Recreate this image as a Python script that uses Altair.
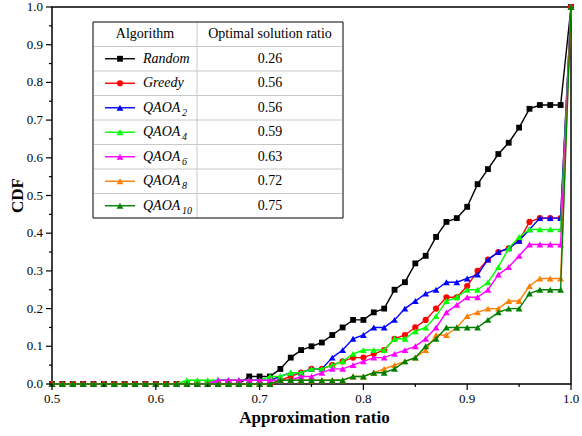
import altair as alt
import pandas as pd

# Approximation-ratio grid (0.50 ... 1.00 in steps of 0.01)
ratio = [round(0.50 + 0.01 * i, 2) for i in range(51)]

# Cumulative distribution of the approximation ratio for each algorithm
cdf_random = [0.0] * 19 + [
    0.02, 0.02, 0.02, 0.04, 0.07, 0.09, 0.10, 0.11, 0.13, 0.15,
    0.17, 0.17, 0.19, 0.20, 0.25, 0.27, 0.32, 0.34, 0.39, 0.43,
    0.44, 0.47, 0.53, 0.57, 0.61, 0.64, 0.68, 0.73, 0.74, 0.74,
    0.74, 1.00]
cdf_greedy = [0.0] * 22 + [
    0.01, 0.02, 0.03, 0.04, 0.04, 0.05, 0.06, 0.07, 0.07, 0.08,
    0.09, 0.12, 0.13, 0.15, 0.17, 0.20, 0.23, 0.23, 0.26, 0.30,
    0.33, 0.35, 0.36, 0.38, 0.43, 0.44, 0.44, 0.44, 1.00]
cdf_qaoa2 = [0.0] * 16 + [0.01] * 6 + [
    0.02, 0.03, 0.03, 0.04, 0.04, 0.07, 0.09, 0.12, 0.13, 0.15,
    0.15, 0.17, 0.20, 0.22, 0.24, 0.25, 0.27, 0.27, 0.28, 0.29,
    0.33, 0.35, 0.36, 0.38, 0.41, 0.44, 0.44, 0.44, 1.00]
cdf_qaoa4 = [0.0] * 13 + [0.01] * 8 + [
    0.02, 0.02, 0.03, 0.03, 0.04, 0.04, 0.05, 0.06, 0.08, 0.09,
    0.09, 0.09, 0.12, 0.12, 0.14, 0.15, 0.18, 0.22, 0.23, 0.25,
    0.25, 0.27, 0.31, 0.36, 0.39, 0.41, 0.41, 0.41, 0.41, 1.00]
cdf_qaoa6 = [0.0] * 16 + [0.01] * 7 + [
    0.01, 0.02, 0.02, 0.03, 0.04, 0.04, 0.05, 0.06, 0.07, 0.07,
    0.08, 0.09, 0.10, 0.12, 0.15, 0.19, 0.21, 0.23, 0.23, 0.25,
    0.29, 0.31, 0.34, 0.37, 0.37, 0.37, 0.37, 1.00]
cdf_qaoa8 = [0.0] * 22 + [0.01] * 7 + [
    0.02, 0.02, 0.03, 0.04, 0.05, 0.06, 0.07, 0.09, 0.13, 0.13,
    0.15, 0.18, 0.19, 0.20, 0.20, 0.22, 0.22, 0.26, 0.28, 0.28,
    0.28, 1.00]
cdf_qaoa10 = [0.0] * 22 + [0.01] * 7 + [
    0.02, 0.02, 0.03, 0.03, 0.04, 0.06, 0.07, 0.10, 0.12, 0.15,
    0.15, 0.15, 0.15, 0.17, 0.19, 0.20, 0.20, 0.24, 0.25, 0.25,
    0.25, 1.00]

series_names = ["Random", "Greedy", "QAOA2", "QAOA4", "QAOA6", "QAOA8", "QAOA10"]
series_values = [cdf_random, cdf_greedy, cdf_qaoa2, cdf_qaoa4,
                 cdf_qaoa6, cdf_qaoa8, cdf_qaoa10]
series_colors = ["#000000", "#ff0000", "#0000ff", "#00ff00",
                 "#ff00ff", "#ff8000", "#008000"]
series_shapes = ["square", "circle", "triangle-up", "triangle-up",
                 "triangle-up", "triangle-up", "triangle-up"]
series_sizes = [34, 38, 46, 46, 46, 46, 46]

# Table legend contents
legend_base = ["Random", "Greedy", "QAOA", "QAOA", "QAOA", "QAOA", "QAOA"]
legend_sub = ["", "", "2", "4", "6", "8", "10"]
optimal_ratio = ["0.26", "0.56", "0.56", "0.59", "0.63", "0.72", "0.75"]

# Axis ticks: labelled major ticks and short unlabelled minor ticks
x_major = [0.5, 0.6, 0.7, 0.8, 0.9, 1.0]
x_minor = [0.55, 0.65, 0.75, 0.85, 0.95]
y_major = [0.0, 0.1, 0.2, 0.3, 0.4, 0.5, 0.6, 0.7, 0.8, 0.9, 1.0]
y_minor = [0.05, 0.15, 0.25, 0.35, 0.45, 0.55, 0.65, 0.75, 0.85, 0.95]

FONT = "Liberation Serif"
W, H = 519, 377
x_scale = alt.Scale(domain=[0.5, 1.0], nice=False, zero=False)
y_scale = alt.Scale(domain=[0.0, 1.0], nice=False)
one = pd.DataFrame({"k": [0]})

# ---- curves: one line + marker layer per algorithm, in legend order ----
curve_layers = []
for name, vals, col, shp, sz in zip(series_names, series_values,
                                    series_colors, series_shapes, series_sizes):
    df = pd.DataFrame({"ratio": ratio, "cdf": vals, "algorithm": name})
    curve_layers.append(
        alt.Chart(df).mark_line(
            color=col, strokeWidth=1.4, clip=False,
            point=alt.OverlayMarkDef(shape=shp, filled=True, color=col,
                                     size=sz, opacity=1),
        ).encode(
            x=alt.X("ratio:Q", scale=x_scale, axis=None),
            y=alt.Y("cdf:Q", scale=y_scale, axis=None),
        )
    )

# ---- axes: ticks, tick labels and titles on the same scales ----
def x_ticks(values, length):
    return alt.Chart(pd.DataFrame({"ratio": values})).mark_rule(
        color="black", strokeWidth=1.2
    ).encode(x=alt.X("ratio:Q", scale=x_scale, axis=None),
             y=alt.value(H), y2=alt.value(H + length))


def y_ticks(values, length):
    return alt.Chart(pd.DataFrame({"cdf": values})).mark_rule(
        color="black", strokeWidth=1.2
    ).encode(y=alt.Y("cdf:Q", scale=y_scale, axis=None),
             x=alt.value(0), x2=alt.value(-length))


x_labels = alt.Chart(pd.DataFrame({
    "ratio": x_major, "label": [f"{v:.1f}" for v in x_major]})).mark_text(
    font=FONT, fontSize=13, color="black", align="center", baseline="middle"
).encode(x=alt.X("ratio:Q", scale=x_scale, axis=None),
         y=alt.value(H + 15), text="label:N")

y_labels = alt.Chart(pd.DataFrame({
    "cdf": y_major, "label": [f"{v:.1f}" for v in y_major]})).mark_text(
    font=FONT, fontSize=13, color="black", align="right", baseline="middle"
).encode(y=alt.Y("cdf:Q", scale=y_scale, axis=None),
         x=alt.value(-9), text="label:N")

x_title = alt.Chart(one).mark_text(
    font=FONT, fontSize=17, fontWeight="bold", color="black",
    align="center", baseline="middle"
).encode(x=alt.value(W / 2 + 3), y=alt.value(H + 34),
         text=alt.value("Approximation ratio"))

y_title = alt.Chart(one).mark_text(
    font=FONT, fontSize=17, fontWeight="bold", color="black",
    align="center", baseline="middle", angle=270
).encode(x=alt.value(-34), y=alt.value(H / 2),
         text=alt.value("CDF"))

axis_layers = [x_ticks(x_major, 6), x_ticks(x_minor, 3),
               y_ticks(y_major, 6), y_ticks(y_minor, 3),
               x_labels, y_labels, x_title, y_title]

# ---- table legend drawn inside the plot area ----
TX0, TX1, TDIV, TY0, ROW = 41, 291, 145, 15, 24.5
TY1 = TY0 + 8 * ROW

legend_layers = [
    alt.Chart(one).mark_rect(fill="white", stroke="black", strokeWidth=1).encode(
        x=alt.value(TX0), x2=alt.value(TX1), y=alt.value(TY0), y2=alt.value(TY1)),
    alt.Chart(one).mark_rule(color="#c8c8c8", strokeWidth=1).encode(
        x=alt.value(TDIV), y=alt.value(TY0 + 1), y2=alt.value(TY1 - 1)),
    alt.Chart(one).mark_text(font=FONT, fontSize=14, color="black",
                             baseline="middle", align="center").encode(
        x=alt.value((TX0 + TDIV) / 2), y=alt.value(TY0 + ROW / 2),
        text=alt.value("Algorithm")),
    alt.Chart(one).mark_text(font=FONT, fontSize=14, color="black",
                             baseline="middle", align="center").encode(
        x=alt.value((TDIV + TX1) / 2), y=alt.value(TY0 + ROW / 2),
        text=alt.value("Optimal solution ratio")),
]
for r in range(1, 8):
    legend_layers.append(
        alt.Chart(one).mark_rule(color="#c8c8c8", strokeWidth=1).encode(
            x=alt.value(TX0 + 1), x2=alt.value(TX1 - 1),
            y=alt.value(TY0 + r * ROW)))

for i, (col, shp, sz, base, sub, opt) in enumerate(zip(
        series_colors, series_shapes, series_sizes,
        legend_base, legend_sub, optimal_ratio)):
    yc = TY0 + (i + 1.5) * ROW
    legend_layers += [
        alt.Chart(one).mark_rule(color=col, strokeWidth=1.4).encode(
            x=alt.value(53), x2=alt.value(83), y=alt.value(yc)),
        alt.Chart(one).mark_point(filled=True, opacity=1, color=col,
                                  shape=shp, size=sz).encode(
            x=alt.value(68), y=alt.value(yc)),
        alt.Chart(one).mark_text(font=FONT, fontSize=14, fontStyle="italic",
                                 align="left", baseline="middle",
                                 color="black").encode(
            x=alt.value(91), y=alt.value(yc), text=alt.value(base)),
        alt.Chart(one).mark_text(font=FONT, fontSize=14, align="center",
                                 baseline="middle", color="black").encode(
            x=alt.value((TDIV + TX1) / 2), y=alt.value(yc), text=alt.value(opt)),
    ]
    if sub:
        legend_layers.append(
            alt.Chart(one).mark_text(font=FONT, fontSize=10, fontStyle="italic",
                                     align="left", baseline="middle",
                                     color="black").encode(
                x=alt.value(130), y=alt.value(yc + 5), text=alt.value(sub)))

chart = alt.layer(
    *curve_layers, *axis_layers, *legend_layers
).properties(
    width=W, height=H,
    autosize=alt.AutoSizeParams(type="none"),
    padding={"left": 52, "top": 7, "right": 11, "bottom": 52},
    background="white",
).configure_view(
    stroke="black", strokeWidth=1.5
)

chart.save("out.html", embed_options={"renderer": "svg", "actions": False})
